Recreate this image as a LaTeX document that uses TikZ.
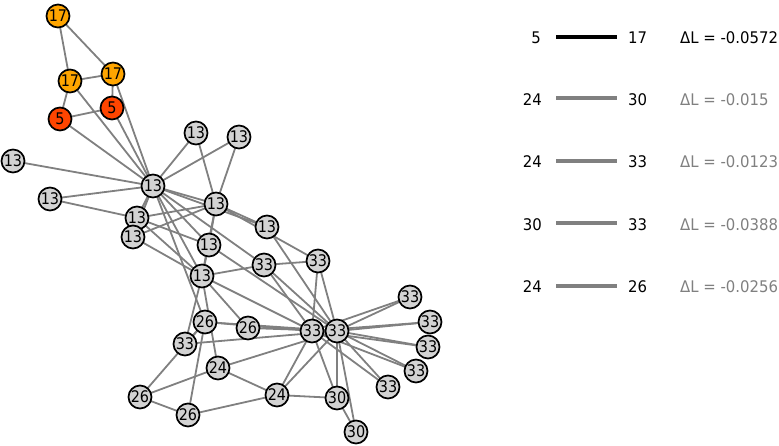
\documentclass[tikz,border=0pt]{standalone}
\usepackage{fontspec}
\setmainfont{DejaVu Sans}
\newfontfamily\nodefont[FakeStretch=0.9]{DejaVu Sans}
\newfontfamily\legfont[FakeStretch=0.93]{DejaVu Sans}
\usetikzlibrary{backgrounds}
\definecolor{edgegray}{HTML}{808080}
\definecolor{nodegray}{HTML}{D3D3D3}
\definecolor{orangeA}{HTML}{FFA500}
\definecolor{redA}{HTML}{FF4500}
\tikzset{
  vtx/.style={circle, draw=black, line width=1.7pt, fill=nodegray, minimum size=23pt, inner sep=0pt, font=\nodefont\fontsize{16}{16}\selectfont},
  vorange/.style={vtx, fill=orangeA},
  vred/.style={vtx, fill=redA},
  edg/.style={draw=edgegray, line width=1.8pt},
  legtxt/.style={inner sep=0pt, font=\legfont\fontsize{16}{18}\selectfont},
  legline/.style={line width=3.5pt}
}
\begin{document}
\begin{tikzpicture}[x=1pt,y=-1pt]
\useasboundingbox (0,0) rectangle (779,446);
\node[vtx] (n0) at (153,186) {13};
\node[vtx] (n1) at (216,204) {13};
\node[vtx] (n2) at (202,276) {13};
\node[vtx] (n3) at (137,218) {13};
\node[vred] (n4) at (112,108) {5};
\node[vorange] (n5) at (70,81) {17};
\node[vorange] (n6) at (113,74) {17};
\node[vtx] (n7) at (133,237) {13};
\node[vtx] (n8) at (264,265) {33};
\node[vtx] (n9) at (248,328) {26};
\node[vred] (n10) at (60,119) {5};
\node[vtx] (n11) at (13,161) {13};
\node[vtx] (n12) at (50,199) {13};
\node[vtx] (n13) at (209,245) {13};
\node[vtx] (n14) at (410,297) {33};
\node[vtx] (n15) at (430,322) {33};
\node[vorange] (n16) at (58,16) {17};
\node[vtx] (n17) at (196,133) {13};
\node[vtx] (n18) at (428,347) {33};
\node[vtx] (n19) at (267,227) {13};
\node[vtx] (n20) at (416,371) {33};
\node[vtx] (n21) at (239,137) {13};
\node[vtx] (n22) at (388,387) {33};
\node[vtx] (n23) at (277,395) {24};
\node[vtx] (n24) at (140,397) {26};
\node[vtx] (n25) at (188,415) {26};
\node[vtx] (n26) at (356,432) {30};
\node[vtx] (n27) at (218,368) {24};
\node[vtx] (n28) at (185,344) {33};
\node[vtx] (n29) at (337,398) {30};
\node[vtx] (n30) at (318,261) {33};
\node[vtx] (n31) at (205,322) {26};
\node[vtx] (n32) at (312,331) {33};
\node[vtx] (n33) at (337,331) {33};
\begin{scope}[on background layer]
\foreach \a/\b in {0/1,0/2,0/3,0/4,0/5,0/6,0/7,0/8,0/10,0/11,0/12,0/13,0/17,0/19,0/21,0/31,
  1/2,1/3,1/7,1/13,1/17,1/19,1/21,1/30,
  2/3,2/7,2/8,2/9,2/13,2/27,2/28,2/32,
  3/7,3/12,3/13,4/6,4/10,5/6,5/10,5/16,6/16,
  8/30,8/32,8/33,9/33,13/33,14/32,14/33,15/32,15/33,18/32,18/33,19/33,
  20/32,20/33,22/32,22/33,23/25,23/27,23/29,23/32,23/33,
  24/25,24/27,24/31,25/31,26/29,26/33,27/33,28/31,28/33,
  29/32,29/33,30/32,30/33,31/32,31/33,32/33}
  \draw[edg] (n\a.center) -- (n\b.center);
\end{scope}
% legend
\node[legtxt, anchor=east] (la1) at (541,38) {5};
\node[legtxt, anchor=west] (lb1) at (628,38) {17};
\draw[legline, black] (556,37) -- (617,37);
\node[legtxt, anchor=west] (lc1) at (680,38) {ΔL = -0.0572};
\node[legtxt, anchor=east] (la2) at (542,100) {24};
\node[legtxt, anchor=west] (lb2) at (628,100) {30};
\draw[legline, edgegray] (556,98) -- (617,98);
\node[legtxt, anchor=west, text=edgegray] (lc2) at (680,100) {ΔL = -0.015};
\node[legtxt, anchor=east] (la3) at (542,162) {24};
\node[legtxt, anchor=west] (lb3) at (628,162) {33};
\draw[legline, edgegray] (556,161) -- (617,161);
\node[legtxt, anchor=west, text=edgegray] (lc3) at (680,162) {ΔL = -0.0123};
\node[legtxt, anchor=east] (la4) at (542,225) {30};
\node[legtxt, anchor=west] (lb4) at (628,225) {33};
\draw[legline, edgegray] (556,223) -- (617,223);
\node[legtxt, anchor=west, text=edgegray] (lc4) at (680,225) {ΔL = -0.0388};
\node[legtxt, anchor=east] (la5) at (542,287) {24};
\node[legtxt, anchor=west] (lb5) at (628,287) {26};
\draw[legline, edgegray] (556,286) -- (617,286);
\node[legtxt, anchor=west, text=edgegray] (lc5) at (680,287) {ΔL = -0.0256};
\end{tikzpicture}
\end{document}
